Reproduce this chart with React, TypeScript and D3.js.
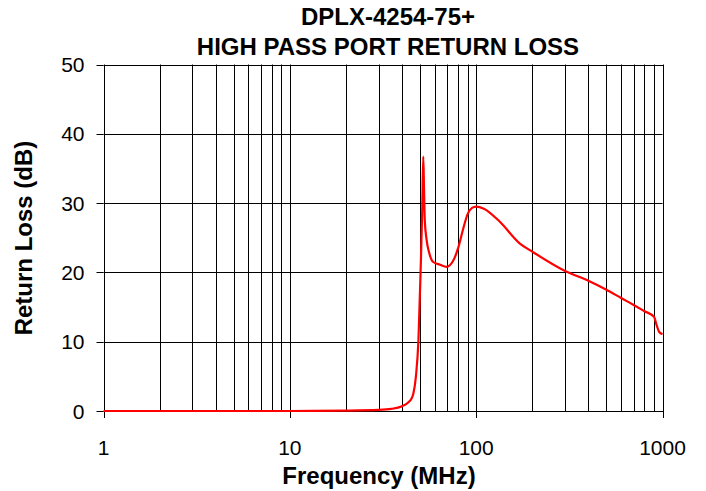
import * as d3 from "d3";
import React, { useRef, useEffect } from "react";

// frequency (MHz) and return loss (dB)
const freqMHz = [
  1, 5, 10, 20, 30, 35, 40, 43, 45, 46, 47.5, 49, 50.3, 51.4, 52, 52.5, 53,
  54.2, 56, 58.8, 64, 69.3, 75, 80, 85, 90, 95, 100, 110, 134, 171, 200, 300,
  400, 500, 600, 700, 800, 900, 930, 960, 1000,
];
const returnLossDb = [
  0, 0, 0, 0.05, 0.15, 0.3, 0.7, 1.2, 1.8, 2.5, 5, 10.2, 20, 29.5, 36.7, 32,
  27.5, 24.7, 22.8, 21.5, 21.1, 20.8, 21.6, 23.5, 26.2, 28.4, 29.3, 29.5, 29.2,
  27.3, 24.2, 23, 20.2, 18.8, 17.5, 16.3, 15.3, 14.4, 13.6, 12.4, 11.4, 11.1,
];
const yTicks = [0, 10, 20, 30, 40, 50];
const xTicks = [1, 10, 100, 1000];
const titleLines = ["DPLX-4254-75+", "HIGH PASS PORT RETURN LOSS"];

const W = 706;
const H = 491;
const margin = { left: 103.5, right: 43.5, top: 64.5, bottom: 80 };

const App = () => {
  const svgRef = useRef(null);

  useEffect(() => {
    const svg = d3.select(svgRef.current);
    svg.selectAll("*").remove();

    const x = d3
      .scaleLog()
      .domain([1, 1000])
      .range([margin.left, W - margin.right]);
    const y = d3
      .scaleLinear()
      .domain([0, 50])
      .range([H - margin.bottom, margin.top]);

    const font = "'Liberation Sans', Arial, sans-serif";

    // vertical grid (2..9 of each decade)
    const minor: number[] = [];
    [1, 10, 100].forEach((dec) => {
      for (let k = 2; k <= 9; k++) minor.push(dec * k);
    });
    svg
      .append("g")
      .selectAll("line")
      .data(minor.concat(xTicks))
      .enter()
      .append("line")
      .attr("x1", (d) => Math.round(x(d)) + 0.5)
      .attr("x2", (d) => Math.round(x(d)) + 0.5)
      .attr("y1", y(50))
      .attr("y2", y(0))
      .attr("stroke", "#000")
      .attr("stroke-width", 1);

    // horizontal grid
    svg
      .append("g")
      .selectAll("line")
      .data(yTicks)
      .enter()
      .append("line")
      .attr("x1", x(1))
      .attr("x2", x(1000))
      .attr("y1", (d) => Math.round(y(d)) + 0.5)
      .attr("y2", (d) => Math.round(y(d)) + 0.5)
      .attr("stroke", "#000")
      .attr("stroke-width", 1);

    // y ticks
    svg
      .append("g")
      .selectAll("line")
      .data(yTicks)
      .enter()
      .append("line")
      .attr("x1", x(1) - 7)
      .attr("x2", x(1))
      .attr("y1", (d) => Math.round(y(d)) + 0.5)
      .attr("y2", (d) => Math.round(y(d)) + 0.5)
      .attr("stroke", "#000");

    // x ticks
    svg
      .append("g")
      .selectAll("line")
      .data(xTicks)
      .enter()
      .append("line")
      .attr("x1", (d) => Math.round(x(d)) + 0.5)
      .attr("x2", (d) => Math.round(x(d)) + 0.5)
      .attr("y1", y(0))
      .attr("y2", y(0) + 7)
      .attr("stroke", "#000");

    // frame
    svg
      .append("rect")
      .attr("x", Math.round(x(1)) + 0.5)
      .attr("y", Math.round(y(50)) + 0.5)
      .attr("width", Math.round(x(1000)) - Math.round(x(1)))
      .attr("height", Math.round(y(0)) - Math.round(y(50)))
      .attr("fill", "none")
      .attr("stroke", "#000");

    // curve
    const pts: [number, number][] = freqMHz.map((f, i) => [f, returnLossDb[i]]);
    const line = d3
      .line<[number, number]>()
      .x((d) => x(d[0]))
      .y((d) => y(d[1]))
      .curve(d3.curveMonotoneX);
    svg
      .append("path")
      .datum(pts)
      .attr("d", line)
      .attr("fill", "none")
      .attr("stroke", "#ff0000")
      .attr("stroke-width", 2.2);

    // y tick labels
    svg
      .append("g")
      .selectAll("text")
      .data(yTicks)
      .enter()
      .append("text")
      .attr("x", x(1) - 19)
      .attr("y", (d) => y(d) + 7.5)
      .attr("text-anchor", "end")
      .attr("font-family", font)
      .attr("font-size", 21)
      .text((d) => d);

    // x tick labels
    svg
      .append("g")
      .selectAll("text")
      .data(xTicks)
      .enter()
      .append("text")
      .attr("x", (d) => x(d))
      .attr("y", y(0) + 43.5)
      .attr("text-anchor", "middle")
      .attr("font-family", font)
      .attr("font-size", 21)
      .text((d) => d);

    // axis titles
    svg
      .append("text")
      .attr("x", 379)
      .attr("y", 484)
      .attr("text-anchor", "middle")
      .attr("font-family", font)
      .attr("font-size", 24)
      .attr("font-weight", "bold")
      .text("Frequency (MHz)");

    svg
      .append("text")
      .attr("transform", `translate(32, 238) rotate(-90)`)
      .attr("text-anchor", "middle")
      .attr("font-family", font)
      .attr("font-size", 24)
      .attr("font-weight", "bold")
      .text("Return Loss (dB)");

    // chart title
    svg
      .append("g")
      .selectAll("text")
      .data(titleLines)
      .enter()
      .append("text")
      .attr("x", 388)
      .attr("y", (_d, i) => 25 + i * 30)
      .attr("text-anchor", "middle")
      .attr("font-family", font)
      .attr("font-size", 24)
      .attr("font-weight", "bold")
      .text((d) => d);
  }, []);

  return (
    <div style={{ width: W, height: H }}>
      <svg
        ref={svgRef}
        width={W}
        height={H}
        style={{ position: "absolute", left: 0, top: 0, background: "#fff" }}
      ></svg>
    </div>
  );
};

export default App;
